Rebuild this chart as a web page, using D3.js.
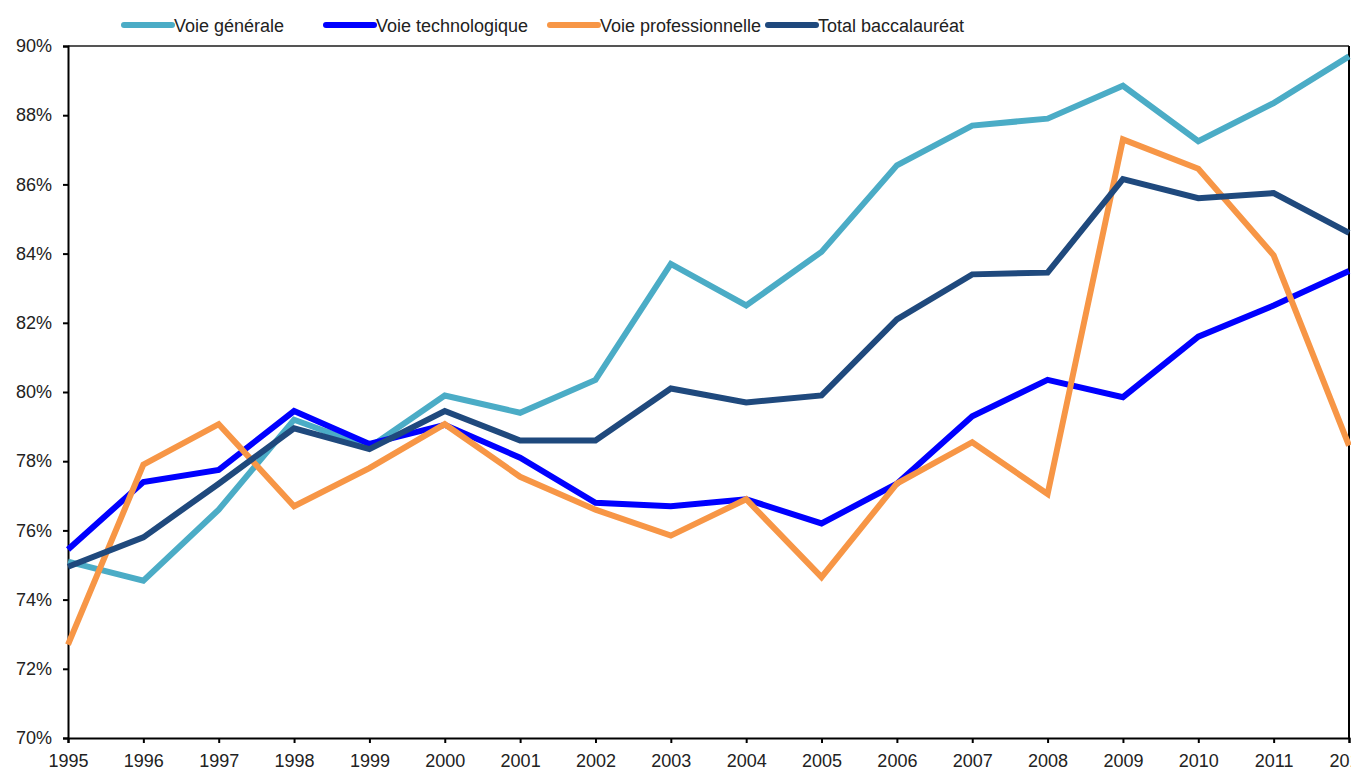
<!DOCTYPE html>
<html>
<head>
<meta charset="utf-8">
<script src="https://cdn.jsdelivr.net/npm/d3@7"></script>
<style>
  body { margin: 0; background: #fff; overflow: hidden; }
  svg { display: block; font-family: "Liberation Sans", Arial, sans-serif; }
</style>
</head>
<body>
<div id="chart"></div>
<script>
// years on the x axis
const years = [1995, 1996, 1997, 1998, 1999, 2000, 2001, 2002, 2003,
               2004, 2005, 2006, 2007, 2008, 2009, 2010, 2011, 2012];

// success rates (%)
const voieGenerale = [75.1, 74.55, 76.6, 79.2, 78.4, 79.9, 79.4, 80.35, 83.7,
                      82.5, 84.05, 86.55, 87.7, 87.9, 88.85, 87.25, 88.35, 89.7];
const voieTechno = [75.45, 77.4, 77.75, 79.45, 78.5, 79.05, 78.1, 76.8, 76.7,
                    76.9, 76.2, 77.35, 79.3, 80.35, 79.85, 81.6, 82.5, 83.5];
const voiePro = [72.7, 77.9, 79.07, 76.7, 77.8, 79.07, 77.55, 76.6, 75.85,
                 76.9, 74.65, 77.35, 78.55, 77.05, 87.3, 86.45, 83.95, 78.45];
const totalBac = [74.95, 75.8, 77.35, 78.95, 78.35, 79.45, 78.6, 78.6, 80.1,
                  79.7, 79.9, 82.1, 83.4, 83.45, 86.15, 85.6, 85.75, 84.6];

const seriesNames = ["Voie générale", "Voie technologique", "Voie professionnelle", "Total baccalauréat"];
const seriesColors = ["#4BACC6", "#0000FF", "#F79646", "#1F497D"];
const yTicks = [70, 72, 74, 76, 78, 80, 82, 84, 86, 88, 90];

const W = 1351, H = 773;
const margin = { top: 46, right: 2, bottom: 35, left: 68 };

const svg = d3.select("#chart").append("svg")
    .attr("width", W).attr("height", H);

const x = d3.scaleLinear().domain([1995, 2012]).range([margin.left, W - margin.right]);
const y = d3.scaleLinear().domain([70, 90]).range([H - margin.bottom, margin.top]);

// frame (top and right)
svg.append("line")
    .attr("x1", margin.left).attr("x2", W - margin.right)
    .attr("y1", margin.top).attr("y2", margin.top)
    .attr("stroke", "#555").attr("stroke-width", 2);
svg.append("line")
    .attr("x1", W - margin.right).attr("x2", W - margin.right)
    .attr("y1", margin.top).attr("y2", H - margin.bottom)
    .attr("stroke", "#000").attr("stroke-width", 2);

// axes
const yAxis = svg.append("g")
    .attr("transform", "translate(" + margin.left + ",0)")
    .call(d3.axisLeft(y).tickValues(yTicks).tickSize(5).tickPadding(11)
        .tickFormat(d => d + "%"));

const xAxis = svg.append("g")
    .attr("transform", "translate(0," + (H - margin.bottom) + ")")
    .call(d3.axisBottom(x).tickValues(years).tickSize(5).tickPadding(11)
        .tickFormat(d3.format("d")));

[yAxis, xAxis].forEach(function(a) {
    a.select(".domain").attr("stroke", "#000").attr("stroke-width", 2);
    a.selectAll(".tick line").attr("stroke", "#000").attr("stroke-width", 2);
    a.selectAll(".tick text")
        .attr("fill", "#222")
        .style("font-size", "18px");
});

// lines
const allSeries = [voieGenerale, voieTechno, voiePro, totalBac];
const line = d3.line()
    .x((d, i) => x(years[i]))
    .y(d => y(d));

svg.selectAll(".serie")
    .data(allSeries)
    .enter().append("path")
    .attr("class", "serie")
    .attr("d", d => line(d))
    .attr("fill", "none")
    .attr("stroke", (d, i) => seriesColors[i])
    .attr("stroke-width", 6)
    .attr("stroke-linejoin", "miter");

// legend
const legendX = [124, 326, 550, 768];
const legend = svg.selectAll(".legend")
    .data(seriesNames)
    .enter().append("g")
    .attr("class", "legend")
    .attr("transform", (d, i) => "translate(" + legendX[i] + ",25)");

legend.append("line")
    .attr("x1", 0).attr("x2", 48)
    .attr("y1", 0).attr("y2", 0)
    .attr("stroke", (d, i) => seriesColors[i])
    .attr("stroke-width", 6)
    .attr("stroke-linecap", "round");

legend.append("text")
    .attr("x", 50).attr("y", 7)
    .attr("fill", "#222")
    .style("font-size", "18px")
    .text(d => d);
</script>
</body>
</html>
